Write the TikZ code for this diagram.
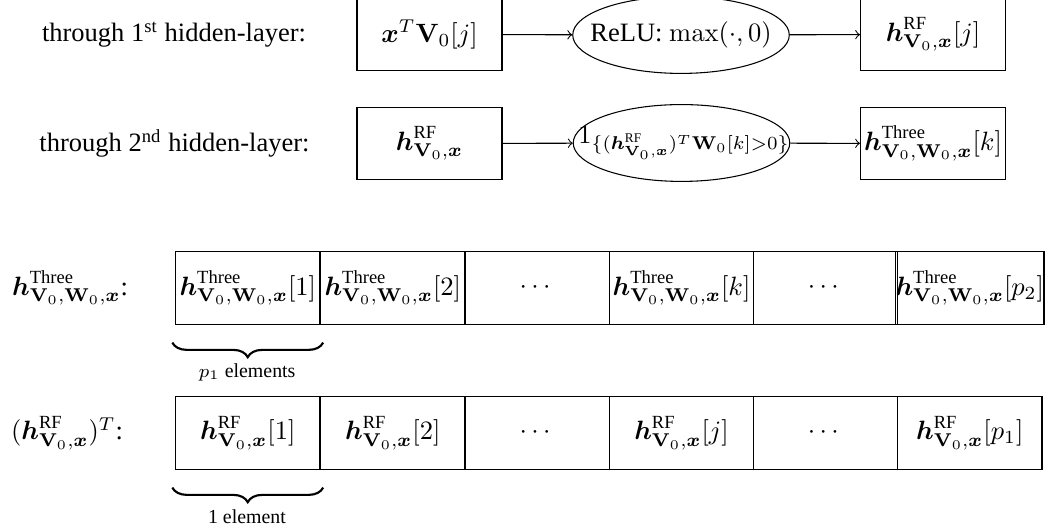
\documentclass[tikz,border=0pt]{standalone}
\usepackage{amsmath}
\usepackage[no-math]{fontspec}
\setmainfont{Liberation Serif}
\usetikzlibrary{shapes.geometric,decorations.pathreplacing}
\newcommand{\hRF}{\boldsymbol{h}^{\text{RF}}_{\mathbf{V}_0,\boldsymbol{x}}}
\newcommand{\hTh}{\boldsymbol{h}^{\text{Three}}_{\mathbf{V}_0,\mathbf{W}_0,\boldsymbol{x}}}
\begin{document}
\begin{tikzpicture}[x=0.37727pt, y=-0.37727pt,
  box/.style={draw, minimum width=54.7pt, minimum height=27.5pt, inner sep=0pt},
  oval/.style={draw, ellipse, minimum width=81.7pt, minimum height=27pt, inner sep=0pt},
  cell/.style={draw, minimum width=54.5pt, minimum height=27.2pt, inner sep=0pt},
  lab/.style={inner sep=0pt},
  brlab/.style={inner sep=0pt, font=\fontsize{7.5}{9}\selectfont},
  arr/.style={->},
  br/.style={decorate, decoration={brace, mirror, amplitude=5.5pt}, line width=0.8pt}]
\useasboundingbox (0,0) rectangle (1047,531);
% first hidden layer
\node[lab] (l1) at (174,34.5) {through 1\textsuperscript{st} hidden-layer:};
\node[box] (a1) at (429.5,34.5) {$\boldsymbol{x}^T\mathbf{V}_0[j]$};
\node[oval, label={[inner sep=0pt]center:ReLU: $\max(\cdot,0)$}] (e1) at (681,35) {\rule{0pt}{20.5pt}};
\node[box] (c1) at (933,34.5) {$\hRF[j]$};
\draw[arr] (a1) -- (e1);
\draw[arr] (e1) -- (c1);
% second hidden layer
\node[lab] (l2) at (174.5,143.5) {through 2\textsuperscript{nd} hidden-layer:};
\node[box] (a2) at (429.5,143.5) {$\hRF$};
\node[oval, label={[inner sep=0pt,xshift=1pt]center:$1_{\{(\hRF)^T\mathbf{W}_0[k]>0\}}$}] (e2) at (681.5,143) {\rule{0pt}{20.5pt}};
\node[box] (c2) at (933,143.5) {$\hTh[k]$};
\draw[arr] (a2) -- (e2);
\draw[arr] (e2) -- (c2);
% arrays
\node[lab] (lt) at (70,288) {$\hTh$:};
\node[cell] (t1) at (247.75,288) {$\hTh[1]$};
\node[cell] (t2) at (392.75,288) {$\hTh[2]$};
\node[cell] (t3) at (537.25,288) {$\cdots$};
\node[cell] (t4) at (681.5,288) {$\hTh[k]$};
\node[cell] (t5) at (825.5,288) {$\cdots$};
\node[cell] (t6) at (969.75,288) {$\hTh[p_2]$};
\node[lab] (lr) at (67,433) {$(\hRF)^T$:};
\node[cell] (r1) at (247.75,433) {$\hRF[1]$};
\node[cell] (r2) at (392.75,433) {$\hRF[2]$};
\node[cell] (r3) at (537.25,433) {$\cdots$};
\node[cell] (r4) at (681.5,433) {$\hRF[j]$};
\node[cell] (r5) at (825.5,433) {$\cdots$};
\node[cell] (r6) at (969.75,433) {$\hRF[p_1]$};
\draw[br] ([xshift=-1pt,yshift=-6.8pt]t1.south west) -- ([xshift=1pt,yshift=-6.8pt]t1.south east);
\node[brlab] (bt) at (247,372) {$p_1$ elements};
\draw[br] ([xshift=-1pt,yshift=-6.8pt]r1.south west) -- ([xshift=1pt,yshift=-6.8pt]r1.south east);
\node[brlab] (bb) at (247,517) {1 element};
\end{tikzpicture}
\end{document}
